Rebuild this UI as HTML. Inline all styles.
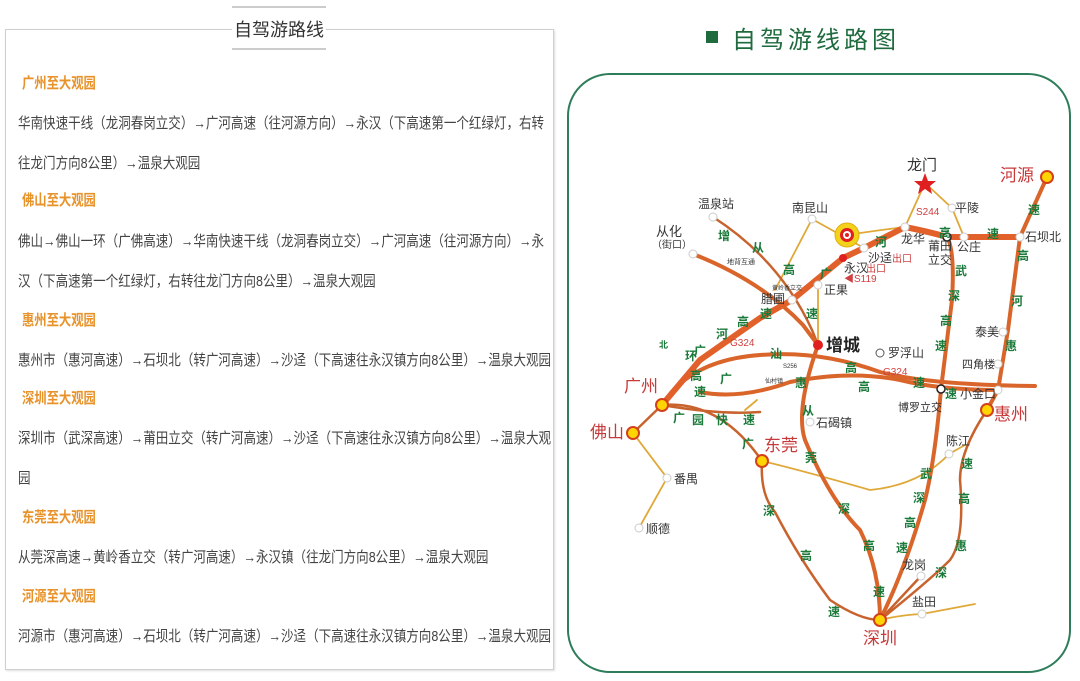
<!DOCTYPE html>
<html><head><meta charset="utf-8"><style>
body{margin:0;width:1080px;height:681px;background:#fff;position:relative;overflow:hidden;font-family:"Liberation Sans","Noto Sans CJK SC",sans-serif}
.box{position:absolute;left:5px;top:29px;width:547px;height:639px;border:1.5px solid #cfcfcf;box-shadow:1px 1px 2px #ddd}
.tt{position:absolute;left:232px;top:6px;width:94px;height:44px;background:#fff;border-top:2px solid #ccc;border-bottom:2px solid #ccc;text-align:center;line-height:44px;font-size:18px;color:#333;box-sizing:border-box}
.l{position:absolute;left:18px;font-size:15px;color:#444;white-space:nowrap;transform:scaleX(0.835);transform-origin:0 0}
.h{position:absolute;left:22px;font-size:15px;color:#e8922a;font-weight:bold;white-space:nowrap;transform:scaleX(0.82);transform-origin:0 0}
</style></head><body>
<div class="box"></div>
<div class="tt">自驾游路线</div>
<div class="h" style="top:72px">广州至大观园</div>
<div class="l" style="top:112px">华南快速干线（龙洞春岗立交）→广河高速（往河源方向）→永汉（下高速第一个红绿灯，右转</div>
<div class="l" style="top:152px">往龙门方向8公里）→温泉大观园</div>
<div class="h" style="top:189px">佛山至大观园</div>
<div class="l" style="top:230px">佛山→佛山一环（广佛高速）→华南快速干线（龙洞春岗立交）→广河高速（往河源方向）→永</div>
<div class="l" style="top:270px">汉（下高速第一个红绿灯，右转往龙门方向8公里）→温泉大观园</div>
<div class="h" style="top:309px">惠州至大观园</div>
<div class="l" style="top:349px">惠州市（惠河高速）→石坝北（转广河高速）→沙迳（下高速往永汉镇方向8公里）→温泉大观园</div>
<div class="h" style="top:387px">深圳至大观园</div>
<div class="l" style="top:427px">深圳市（武深高速）→莆田立交（转广河高速）→沙迳（下高速往永汉镇方向8公里）→温泉大观</div>
<div class="l" style="top:467px">园</div>
<div class="h" style="top:506px">东莞至大观园</div>
<div class="l" style="top:546px">从莞深高速→黄岭香立交（转广河高速）→永汉镇（往龙门方向8公里）→温泉大观园</div>
<div class="h" style="top:585px">河源至大观园</div>
<div class="l" style="top:625px">河源市（惠河高速）→石坝北（转广河高速）→沙迳（下高速往永汉镇方向8公里）→温泉大观园</div>

<svg style="position:absolute;left:0;top:0" width="1080" height="681" font-family="Liberation Sans,Noto Sans CJK SC,sans-serif">
<rect x="706" y="31" width="12" height="12" fill="#1f6b3e"/>
<text x="732" y="48" font-size="24" fill="#1f6b3e" letter-spacing="4">自驾游线路图</text>
<rect x="568" y="74" width="502" height="598" rx="42" fill="none" stroke="#2e7d5a" stroke-width="2"/>
<g fill="none" stroke-linecap="round">
<g stroke="#e0a838" stroke-width="1.8">
<path d="M812,219 L775,290 M812,219 L864,248"/>
<path d="M925,183 L905,227 M925,183 L952,208 L964,237"/>
<path d="M847,235 Q880,230 905,227"/>
<path d="M818,285 L818,345"/>
<path d="M633,433 L667,478 L639,528"/>
<path d="M762,461 Q800,470 870,490 Q920,485 949,454 L965,445"/>
<path d="M880,620 Q900,615 922,614 L975,604"/>
<path d="M757,400 L745,410"/>
</g>
<g stroke="#c8632e" stroke-width="2.5">
<path d="M713,217 Q780,260 812,330 L818,345"/>
<path d="M662,405 L633,433"/>
<path d="M662,405 Q720,400 762,461"/>
<path d="M762,461 Q760,495 775,512 Q800,560 830,600 Q860,620 880,620"/>
<path d="M987,410 Q960,450 960,480 Q965,540 950,560 Q930,580 880,620"/>
<path d="M662,405 Q720,415 760,412"/>
<path d="M880,620 L921,576"/>
</g>
<g stroke="#d9652b" stroke-width="4">
<path d="M693,254 Q760,280 803,325 L818,345 Q795,410 805,440 Q830,500 860,530 Q880,570 880,620"/>
<path d="M947,237 Q955,250 952,300 L941,389 Q935,460 925,500 Q905,570 880,620"/>
<path d="M1020,237 L1008,330 L998,390 L987,410"/>
<path d="M662,405 Q690,360 760,355 Q820,350 880,372 Q930,385 1035,386"/>
<path d="M700,392 Q740,400 790,382 Q850,370 900,380 Q940,390 1000,390"/>
<path d="M1020,237 L1047,177"/>
</g>
<g stroke="#e2602a" stroke-width="6">
<path d="M662,405 L700,360 L760,318 L792,300 L843,258 L864,248 L905,227 Q930,232 947,237 L1020,237"/>
</g>
</g>
<g fill="#fff" stroke="#ccc" stroke-width="1">
<circle cx="713" cy="217" r="4"/><circle cx="812" cy="219" r="4"/><circle cx="693" cy="254" r="4"/>
<circle cx="905" cy="227" r="4"/><circle cx="952" cy="208" r="4"/><circle cx="964" cy="237" r="4"/>
<circle cx="1020" cy="237" r="4"/><circle cx="864" cy="248" r="4"/><circle cx="818" cy="285" r="4"/>
<circle cx="792" cy="300" r="4"/><circle cx="1003" cy="332" r="4"/><circle cx="998" cy="364" r="4"/>
<circle cx="998" cy="390" r="4"/><circle cx="810" cy="422" r="4"/><circle cx="667" cy="478" r="4"/>
<circle cx="639" cy="528" r="4"/><circle cx="949" cy="454" r="4"/><circle cx="921" cy="576" r="4"/><circle cx="922" cy="614" r="4"/>
</g>
<circle cx="880" cy="353" r="4" fill="#fff" stroke="#555"/>
<circle cx="947" cy="237" r="4" fill="#fff" stroke="#222" stroke-width="1.5"/>
<circle cx="941" cy="389" r="4" fill="#fff" stroke="#222" stroke-width="1.5"/>
<circle cx="843" cy="258" r="4" fill="#e02020"/><circle cx="818" cy="345" r="5" fill="#e02020"/>
<circle cx="847" cy="235" r="12" fill="#f3d21a" stroke="#e0b010"/><circle cx="847" cy="235" r="7" fill="#e02020"/><circle cx="847" cy="235" r="4" fill="#fff"/><circle cx="847" cy="235" r="2" fill="#e02020"/>
<g fill="#ffd400" stroke="#d2401e" stroke-width="2">
<circle cx="1047" cy="177" r="6"/><circle cx="662" cy="405" r="6"/><circle cx="633" cy="433" r="6"/>
<circle cx="762" cy="461" r="6"/><circle cx="987" cy="410" r="6"/><circle cx="880" cy="620" r="6"/>
</g>
<polygon points="925,173 928,181 936,181 930,186 932,194 925,189 918,194 920,186 914,181 922,181" fill="#e02020"/>
<g font-size="12" fill="#333">
<text x="907" y="170" font-size="15">龙门</text>
<text x="698" y="208">温泉站</text><text x="792" y="212">南昆山</text>
<text x="656" y="236" font-size="13">从化</text><text x="652" y="248" font-size="10">（街口）</text>
<text x="901" y="243">龙华</text><text x="955" y="212">平陵</text>
<text x="928" y="250">莆田</text><text x="928" y="264">立交</text><text x="957" y="251">公庄</text>
<text x="1025" y="241">石坝北</text>
<text x="868" y="262">沙迳</text><text x="844" y="272">永汉</text>
<text x="824" y="294">正果</text><text x="761" y="303">腊圃</text>
<text x="772" y="290" font-size="6">黄岭香立交</text><text x="727" y="264" font-size="7">地背互通</text>
<text x="826" y="351" font-size="17" font-weight="bold" fill="#222">增城</text>
<text x="888" y="357">罗浮山</text><text x="975" y="336">泰美</text><text x="962" y="368" font-size="11">四角楼</text>
<text x="960" y="398">小金口</text><text x="898" y="411" font-size="11">博罗立交</text>
<text x="816" y="427">石碣镇</text><text x="674" y="483">番禺</text><text x="646" y="533">顺德</text>
<text x="946" y="445">陈江</text><text x="902" y="569">龙岗</text><text x="912" y="606">盐田</text>
<text x="783" y="368" font-size="6">S256</text><text x="765" y="383" font-size="6">仙村镇</text>
</g>
<g fill="#c83a3a" font-size="17">
<text x="1000" y="181">河源</text><text x="624" y="392">广州</text><text x="590" y="438">佛山</text>
<text x="764" y="451">东莞</text><text x="994" y="420">惠州</text><text x="863" y="644">深圳</text>
</g>
<g fill="#d04040" font-size="10">
<text x="892" y="262">出口</text><text x="866" y="272">出口</text><text x="844" y="282">◀S119</text>
<text x="916" y="215">S244</text><text x="730" y="346">G324</text><text x="883" y="375">G324</text>
</g>
<g fill="#1a7a3a" font-size="12" font-weight="bold">
<text x="718" y="240">增</text><text x="752" y="252">从</text><text x="783" y="274">高</text><text x="806" y="318">速</text>
<text x="875" y="246">河</text><text x="820" y="278">广</text><text x="760" y="318">速</text><text x="737" y="326">高</text>
<text x="716" y="338">河</text><text x="694" y="355">广</text><text x="939" y="237">高</text><text x="987" y="238">速</text>
<text x="1028" y="214">速</text><text x="1017" y="260">高</text><text x="1011" y="305">河</text><text x="1005" y="350">惠</text>
<text x="955" y="275">武</text><text x="948" y="300">深</text><text x="940" y="325">高</text><text x="935" y="350">速</text>
<text x="770" y="358">汕</text><text x="845" y="372">高</text><text x="913" y="387">速</text><text x="945" y="398">速</text>
<text x="720" y="383">广</text><text x="795" y="387">惠</text><text x="858" y="391">高</text>
<text x="690" y="380">高</text><text x="694" y="396">速</text><text x="685" y="360">环</text><text x="659" y="348" font-size="9">北</text>
<text x="673" y="422">广</text><text x="692" y="424">园</text><text x="716" y="424">快</text><text x="743" y="424">速</text>
<text x="742" y="448">广</text><text x="802" y="415">从</text><text x="805" y="462">莞</text><text x="838" y="513">深</text>
<text x="863" y="550">高</text><text x="873" y="596">速</text><text x="763" y="515">深</text><text x="800" y="560">高</text><text x="828" y="616">速</text>
<text x="920" y="478">武</text><text x="913" y="502">深</text><text x="904" y="527">高</text><text x="896" y="552">速</text>
<text x="961" y="468">速</text><text x="958" y="503">高</text><text x="955" y="550">惠</text><text x="935" y="577">深</text>
</g>
</svg>
</body></html>
